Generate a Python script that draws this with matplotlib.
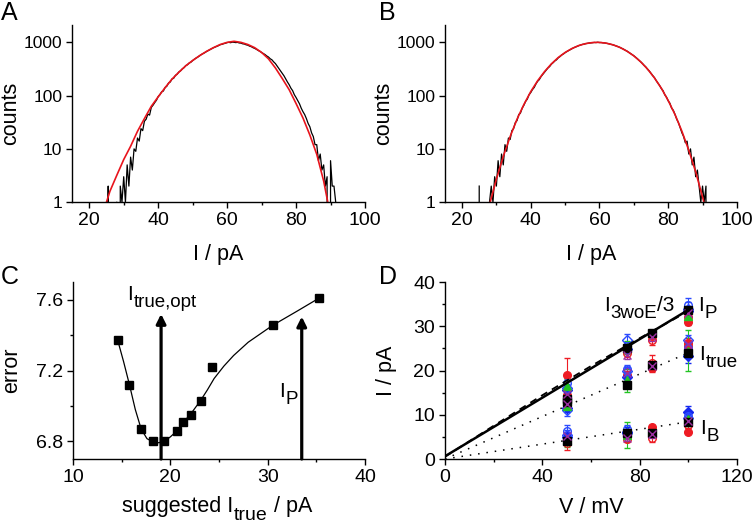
import matplotlib
matplotlib.use('Agg')
import numpy as np
import matplotlib.pyplot as plt

plt.rcParams['font.family'] = ['Liberation Sans', 'DejaVu Sans']
plt.rcParams['font.size'] = 14
plt.rcParams['axes.linewidth'] = 1.0
plt.rcParams['axes.labelsize'] = 15.5

# ---- panel A / B: current histograms (bins every 0.5 pA from 25 to 92)
hist_x = np.arange(25.0, 92.01, 0.5)
counts_a = [0, 2, 0, 0, 0, 0, 1, 0, 2, 1,
            3, 1, 5, 2, 7, 4, 10, 9, 16, 14,
            24, 22, 33, 36, 45, 43, 60, 66, 74, 82,
            96, 104, 118, 122, 142, 150, 172, 180, 205, 212,
            240, 252, 278, 292, 318, 335, 366, 380, 410, 425,
            455, 482, 508, 530, 560, 590, 615, 640, 672, 700,
            730, 760, 790, 815, 845, 868, 905, 918, 945, 962,
            990, 1002, 985, 1010, 1005, 990, 1000, 975, 968, 940,
            930, 900, 885, 850, 830, 795, 770, 740, 705, 680,
            645, 618, 590, 555, 530, 492, 470, 430, 400, 360,
            325, 292, 262, 235, 205, 180, 160, 138, 124, 104,
            92, 80, 70, 58, 50, 44, 37, 30, 26, 20,
            17, 12, 12, 6, 8, 4, 5, 2, 3, 0,
            6, 2, 2, 1, 0]
counts_b = [2, 0, 0, 0, 0, 0, 1, 2, 1, 3,
            2, 6, 3, 8, 5, 12, 9, 16, 15, 22,
            24, 31, 34, 44, 47, 58, 66, 78, 86, 104,
            114, 130, 142, 165, 186, 200, 228, 250, 276, 300,
            330, 352, 390, 415, 448, 470, 512, 540, 580, 605,
            640, 672, 700, 730, 760, 792, 815, 842, 868, 890,
            915, 925, 945, 960, 972, 978, 985, 998, 990, 1005,
            990, 995, 980, 978, 960, 948, 930, 915, 895, 872,
            850, 828, 800, 772, 745, 712, 685, 652, 620, 592,
            560, 528, 495, 462, 430, 402, 370, 345, 312, 290,
            262, 238, 218, 192, 172, 155, 136, 124, 104, 94,
            80, 72, 58, 53, 44, 36, 31, 25, 20, 17,
            13, 14, 8, 10, 5, 7, 3, 4, 2, 1,
            2, 1, 2, 0, 0]

fit_a_x = [25.0, 26, 28, 30, 32, 34, 36, 38, 40, 42, 44, 46, 48, 50, 52, 54, 56,
           58, 60, 62, 64, 66, 68, 70, 72, 74, 76, 78, 80, 82, 84, 86, 88, 89.2]
fit_a_y = [1.0, 1.6, 3.2, 6.3, 11.2, 21.4, 37, 63, 95, 141, 204, 275, 363, 457, 562,
           676, 794, 912, 1000, 1047, 1000, 912, 794, 646, 490, 331, 209, 129, 71,
           38, 18.2, 7.9, 2.5, 1.0]
fit_b_x = [28.2, 30, 32, 34, 36, 38, 40, 42, 44, 46, 48, 50, 52, 54, 56, 58, 59.3,
           60, 62, 64, 66, 68, 70, 72, 74, 76, 78, 80, 82, 84, 86, 88, 90, 90.4]
fit_b_y = [1.0, 2.7, 7.2, 17, 36, 68, 119, 190, 282, 394, 519, 646, 767, 873, 948,
           992, 1000, 998, 965, 897, 801, 684, 558, 431, 315, 215, 138, 81, 44, 21.4,
           9.4, 3.7, 1.25, 1.0]

# ---- panel C: error vs suggested I_true
sugg_i = [14.6, 15.8, 17.0, 18.2, 19.4, 20.7, 21.3, 22.1, 23.1, 24.3, 30.5, 35.3]
err_vals = [7.37, 7.12, 6.87, 6.80, 6.80, 6.86, 6.91, 6.95, 7.03, 7.22, 7.455, 7.61]
curve_x = [14.6, 15.2, 15.8, 16.4, 17.0, 17.6, 18.2, 18.8, 19.4, 20.0, 20.7, 21.3,
           22.1, 23.1, 23.8, 24.5, 25.5, 26.5, 28.0, 30.5, 33.0, 35.3]
curve_y = [7.37, 7.25, 7.12, 6.98, 6.87, 6.815, 6.797, 6.792, 6.80, 6.825, 6.86, 6.905,
           6.955, 7.03, 7.09, 7.155, 7.225, 7.285, 7.36, 7.455, 7.535, 7.61]
i_true_opt = 19.05
i_p_c = 33.5

# ---- panel D: currents vs voltage, several data sets
volts = [50, 75, 85, 100]
nan = np.nan
ip = [[19.1, nan, 27.8, 31.0],
      [14.0, 24.0, 26.8, 32.0],
      [15.5, 24.8, nan, 33.4],
      [17.2, 25.5, nan, 34.8],
      [16.0, 26.9, nan, 34.0],
      [16.5, 25.2, nan, 32.3],
      [13.5, 25.0, 28.4, 33.6],
      [14.8, 23.6, 27.5, 33.0]]
ip_err = [[3.8, nan, 0.7, 0.8],
          [1.0, 1.0, 1.0, 0.8],
          [1.0, 1.0, nan, 1.0],
          [1.2, 1.0, nan, 1.6],
          [1.0, 1.3, nan, 1.5],
          [1.5, 1.5, nan, 1.7],
          [0.8, 0.8, 0.5, 0.8],
          [1.0, 1.0, 0.8, 1.0]]
itrue = [[14.4, nan, 20.5, 26.3],
         [12.3, 19.0, 21.8, 25.6],
         [11.6, 18.5, nan, 23.3],
         [12.8, 20.3, nan, 25.0],
         [11.0, 19.8, nan, 26.8],
         [12.0, 17.8, nan, 24.5],
         [13.0, 16.8, 21.3, 24.0],
         [12.5, 19.5, 21.0, 26.0]]
itrue_err = [[1.0, nan, 0.8, 1.0],
             [0.8, 1.0, 1.8, 0.8],
             [1.0, 1.2, nan, 1.5],
             [1.2, 1.0, nan, 1.3],
             [1.2, 1.0, nan, 1.2],
             [1.0, 2.6, nan, 4.6],
             [0.6, 0.8, 0.6, 0.7],
             [0.8, 1.0, 0.8, 1.0]]
ib = [[4.5, nan, 7.2, 6.2],
      [3.7, 4.6, 4.8, 7.6],
      [5.0, 6.0, nan, 10.7],
      [6.3, 6.8, nan, 9.8],
      [5.5, 5.8, nan, 9.2],
      [4.3, 5.5, nan, 9.0],
      [4.0, 5.8, 5.8, 8.4],
      [5.3, 4.8, 5.6, 8.6]]
ib_err = [[0.6, nan, 0.4, 0.4],
          [1.7, 0.8, 1.0, 0.6],
          [1.2, 1.2, nan, 1.3],
          [1.5, 1.0, nan, 1.2],
          [1.0, 0.8, nan, 1.0],
          [1.5, 2.9, nan, 1.5],
          [0.6, 0.6, 0.5, 0.6],
          [0.8, 0.8, 0.8, 0.8]]
fit_v = [0, 100]
fit_ip = [0.6, 33.7]
fit_itrue = [0.0, 24.0]
fit_ib = [0.0, 8.4]
woe_v = [0, 20, 40, 60, 80, 100]
woe_i = [0.5, 7.5, 14.4, 21.0, 27.3, 33.4]

# marker styles for the data sets in D
ds_colors = ['#ee1c24', '#ee1c24', '#1428f0', '#2b4bff', '#2b4bff', '#22c422', 'black', '#9b2fa0']
ds_markers = ['o', 'o', 'D', 'o', 'D', '^', 's', 'x']
ds_filled = [True, False, True, False, False, True, True, True]


def style_axes(ax, ysize=14):
    ax.spines['top'].set_visible(False)
    ax.spines['right'].set_visible(False)
    ax.tick_params(which='major', direction='out', length=4, width=1.0, pad=3, labelsize=14)
    ax.tick_params(axis='y', labelsize=ysize)
    ax.tick_params(which='minor', direction='out', length=2.5, width=1.0)


def sub_label(ax, x, y, main, sub, tail='', size=15, sub_size=13.5, drop=5, transform=None):
    # Origin-like subscript: big subscript letters, tail back on the main baseline
    if transform is None:
        transform = ax.transData
    t = ax.text(x, y, main, fontsize=size, ha='left', va='baseline', transform=transform)
    s = ax.annotate(sub, xy=(1, 0), xycoords=t, xytext=(0.6, -drop), textcoords='offset points',
                    fontsize=sub_size, ha='left', va='bottom', annotation_clip=False)
    if tail:
        ax.annotate(tail, xy=(1, 0), xycoords=(s, t), xytext=(0, 0), textcoords='offset points',
                    fontsize=size, ha='left', va='bottom', annotation_clip=False)


fig = plt.figure(figsize=(7.54, 5.25), dpi=100)

# ---- A and B
for pos, counts, fx, fy in [([0.0955, 0.615, 0.3886, 0.337], counts_a, fit_a_x, fit_a_y),
                            ([0.590, 0.615, 0.3873, 0.337], counts_b, fit_b_x, fit_b_y)]:
    ax = fig.add_axes(pos)
    ax.plot(hist_x, counts, color='black', lw=0.9)
    ax.plot(fx, fy, color='#e8141c', lw=1.2)
    ax.set_yscale('log')
    ax.set_xlim(15, 100)
    ax.set_ylim(1, 2100)
    ax.set_yticks([1, 10, 100, 1000])
    ax.set_yticklabels(['1', '10', '100', '1000'])
    ax.yaxis.set_minor_locator(matplotlib.ticker.NullLocator())
    ax.set_xticks([20, 40, 60, 80, 100])
    ax.set_xticks([30, 50, 70, 90], minor=True)
    style_axes(ax, ysize=12.5)
    ax.set_xlabel('I / pA')
    ax.set_ylabel('counts')
    ax.xaxis.set_label_coords(0.5, -0.235)
    ax.yaxis.set_label_coords(-0.175, 0.5)

fig.text(0.001, 0.999, 'A', fontsize=18, va='top', ha='left')
fig.text(0.502, 0.999, 'B', fontsize=18, va='top', ha='left')

# ---- C
axc = fig.add_axes([0.0968, 0.1257, 0.3873, 0.337])
axc.plot(curve_x, curve_y, color='black', lw=0.9)
axc.plot(sugg_i, err_vals, 's', color='black', ms=6)
for xa, tip in [(i_true_opt, 7.52), (i_p_c, 7.505)]:
    axc.annotate('', xy=(xa, tip), xytext=(xa, 6.7),
                 arrowprops=dict(arrowstyle='-|>', lw=2.3, color='black',
                                 mutation_scale=14, shrinkA=0, shrinkB=0))
sub_label(axc, 15.6, 7.597, 'I', 'true,opt')
sub_label(axc, 31.2, 7.05, 'I', 'P')
axc.set_xlim(10, 40)
axc.set_ylim(6.7, 7.7)
axc.set_xticks([10, 20, 30, 40])
axc.set_xticks([15, 25, 35], minor=True)
axc.set_yticks([6.8, 7.2, 7.6])
axc.set_yticks([7.0, 7.4], minor=True)
style_axes(axc)
sub_label(axc, 0.168, -0.30, 'suggested I', 'true', ' / pA', size=15.5, sub_size=14,
          transform=axc.transAxes)
axc.set_ylabel('error')
axc.yaxis.set_label_coords(-0.175, 0.5)
fig.text(0.001, 0.495, 'C', fontsize=18, va='top', ha='left')

# ---- D
axd = fig.add_axes([0.590, 0.1257, 0.3873, 0.337])
dot = (0, (1, 4.5))
axd.plot(fit_v, fit_itrue, color='black', lw=1.1, ls=dot)
axd.plot(fit_v, fit_ib, color='black', lw=1.1, ls=dot)
for k in range(len(ds_colors)):
    c = ds_colors[k]
    mfc = c if ds_filled[k] else 'none'
    for vals, errs in [(ip, ip_err), (itrue, itrue_err), (ib, ib_err)]:
        axd.errorbar(volts, vals[k], yerr=errs[k], fmt=ds_markers[k], color=c,
                     mfc=mfc, mec=c, ms=5.5, elinewidth=0.8, capsize=2.4, capthick=0.8,
                     mew=1.0, zorder=3)
axd.plot(woe_v, woe_i, color='black', lw=1.3, ls=(0, (4, 3)), zorder=4)
axd.plot(fit_v, fit_ip, color='black', lw=1.8, zorder=5)
sub_label(axd, 65.3, 33.4, 'I', '3woE', '/3')
sub_label(axd, 104.0, 33.4, 'I', 'P')
sub_label(axd, 104.4, 22.4, 'I', 'true')
sub_label(axd, 104.8, 5.7, 'I', 'B')
axd.set_xlim(0, 120)
axd.set_ylim(0, 40)
axd.set_xticks([0, 40, 80, 120])
axd.set_xticks([20, 60, 100], minor=True)
axd.set_yticks([0, 10, 20, 30, 40])
axd.set_yticks([5, 15, 25, 35], minor=True)
style_axes(axd)
axd.set_xlabel('V / mV')
axd.set_ylabel('I / pA')
axd.xaxis.set_label_coords(0.5, -0.215)
axd.yaxis.set_label_coords(-0.165, 0.5)
fig.text(0.502, 0.495, 'D', fontsize=18, va='top', ha='left')

fig.savefig('out.png', dpi=100)
